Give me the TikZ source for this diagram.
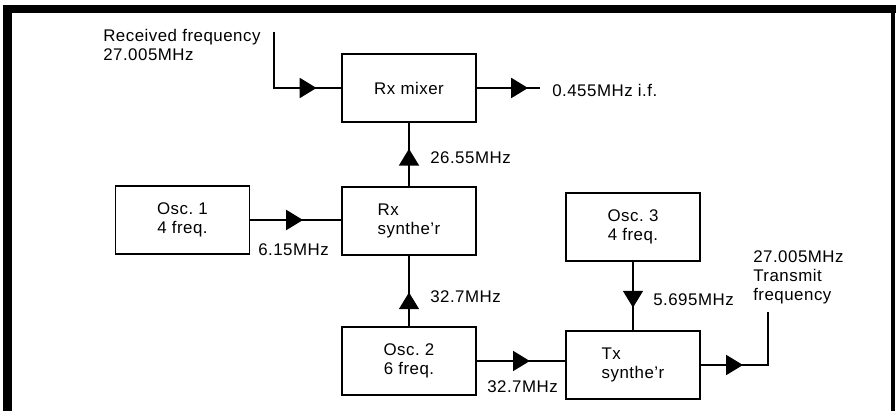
\documentclass[tikz,border=0pt]{standalone}
\usepackage{fontspec}
\setmainfont{Liberation Sans}[LetterSpace=3]
\usepackage{tikz}
\usetikzlibrary{arrows.meta, decorations.markings}
\newcommand{\lab}{\fontsize{12}{13.5}\selectfont}
\tikzset{
  blk/.style={draw, line width=0.45mm, minimum width=33.5mm, minimum height=17mm,
              align=center, font=\lab},
  lbl/.style={inner sep=0pt, align=left, font=\lab},
  sig/.style={line width=0.45mm},
  sigarr/.style={sig, decoration={markings,
                 mark=at position #1 with {\arrow{Triangle[length=4.2mm, width=5mm]}}},
                 postaction={decorate}},
}
\begin{document}
\begin{tikzpicture}[x=0.25mm, y=-0.25mm]
\useasboundingbox (0,0) rectangle (896,411);
% ---- frame ----
\draw[line width=2.3mm] (7.5,411) -- (7.5,9);
\draw[line width=2mm] (3,9) -- (896,9);
\draw[line width=0.8mm] (893,9) -- (893,411);
% ---- blocks ----
\node[blk] (rxmix) at (409,88) {Rx mixer};
\node[blk] (osc1) at (182.5,220) {Osc.\ 1\\4 freq.};
\node[blk, align=left] (rxsyn) at (409,221) {Rx\\synthe'r};
\node[blk] (osc2) at (409,361) {Osc.\ 2\\6 freq.};
\node[blk] (osc3) at (633,227) {Osc.\ 3\\4 freq.};
\node[blk, align=left] (txsyn) at (633,365) {Tx\\synthe'r};
% ---- free ends ----
\coordinate (rxin) at (274,32);
\coordinate (ifout) at (540,88);
\coordinate (txout) at (768,312);
% ---- signal paths, arrowhead part way along ----
\draw[sigarr=0.8] (rxin) |- (rxmix.west);
\draw[sigarr=0.81] (rxmix.east) -- (ifout);
\draw[sigarr=0.59] (rxsyn.north) -- (rxmix.south);
\draw[sigarr=0.58] (osc1.east) -- (osc1.east -| rxsyn.west);
\draw[sigarr=0.48] (osc2.north) -- (rxsyn.south);
\draw[sigarr=0.6] (osc2.east) -- (osc2.east -| txsyn.west);
\draw[sigarr=0.67] (osc3.south) -- (txsyn.north);
\draw[sigarr=0.35] (txsyn.east) -| (txout);
% ---- labels ----
\node[lbl, anchor=north west] (rxlbl) at (103,29) {Received frequency\\27.005MHz};
\node[lbl, anchor=west] (iflbl) at (552,90) {0.455MHz i.f.};
\node[lbl, anchor=west] (f2655) at (430,158) {26.55MHz};
\node[lbl, anchor=west] (f615) at (258,250) {6.15MHz};
\node[lbl, anchor=west] (f327a) at (430,297) {32.7MHz};
\node[lbl, anchor=west] (f327b) at (487,387) {32.7MHz};
\node[lbl, anchor=west] (f5695) at (653,300) {5.695MHz};
\node[lbl, anchor=north west] (txlbl) at (753,250) {27.005MHz\\Transmit\\frequency};
\end{tikzpicture}
\end{document}
